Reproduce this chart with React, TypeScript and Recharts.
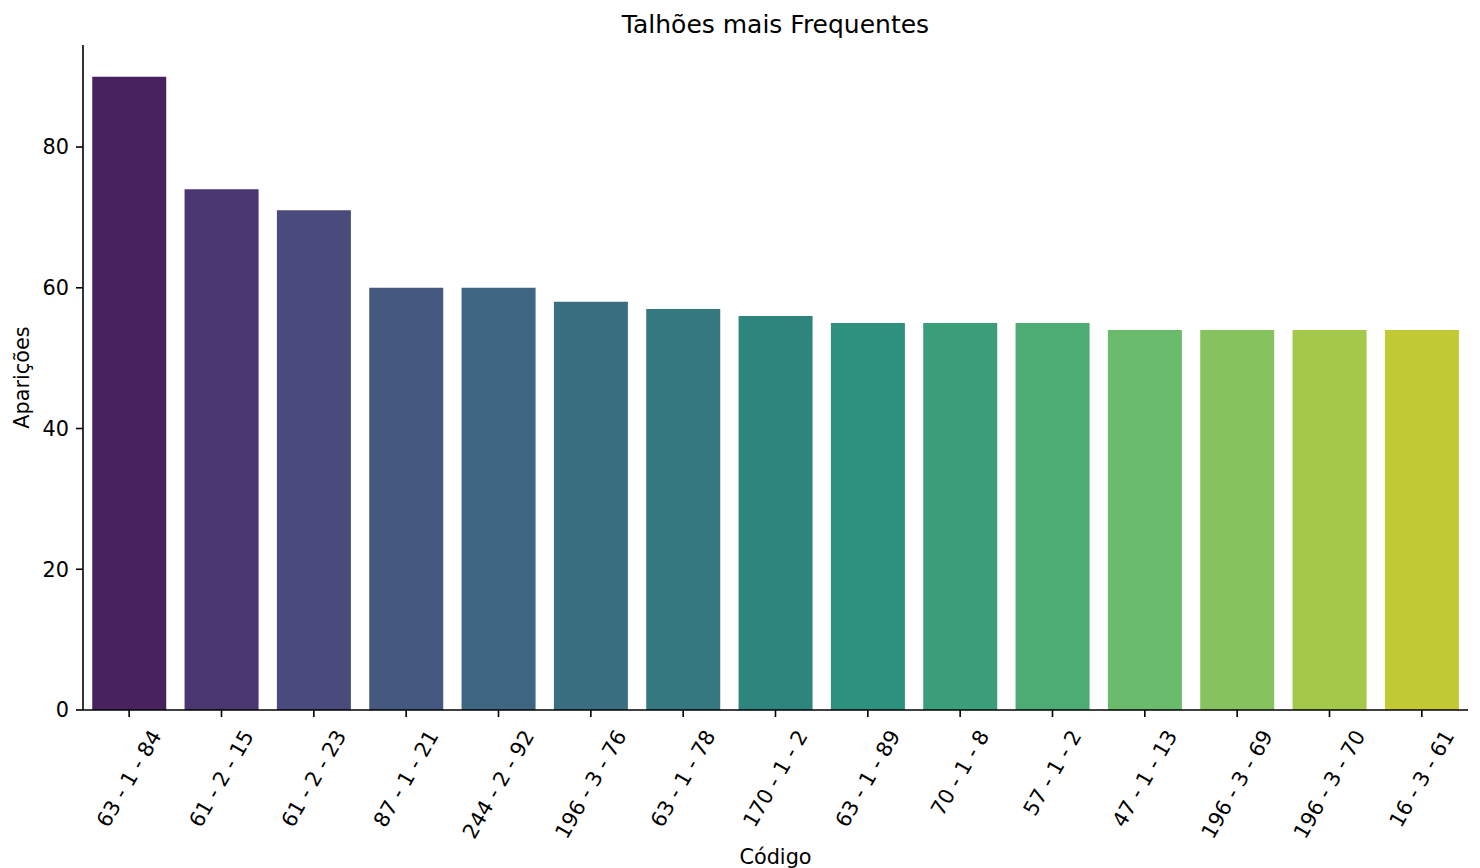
import { Bar, BarChart, Cell, XAxis, YAxis } from "recharts";

const codes = [
  "63 - 1 - 84",
  "61 - 2 - 15",
  "61 - 2 - 23",
  "87 - 1 - 21",
  "244 - 2 - 92",
  "196 - 3 - 76",
  "63 - 1 - 78",
  "170 - 1 - 2",
  "63 - 1 - 89",
  "70 - 1 - 8",
  "57 - 1 - 2",
  "47 - 1 - 13",
  "196 - 3 - 69",
  "196 - 3 - 70",
  "16 - 3 - 61"
];

const counts = [90, 74, 71, 60, 60, 58, 57, 56, 55, 55, 55, 54, 54, 54, 54];

const barColors = [
  "#48215f", "#4a3670", "#4a4a7c", "#445880", "#3e6582",
  "#396f80", "#35787f", "#2e857d", "#2e917d", "#3a9e79",
  "#4dab74", "#6abb6b", "#86c25d", "#a3c84a", "#c1ca35"
];

const yTicks = [0, 20, 40, 60, 80];

const FONT = "DejaVu Sans";
const FS = 20.8;

const data = codes.map((code, i) => ({ code, count: counts[i] }));

let ctx: CanvasRenderingContext2D | null = null;
const measure = (s: string) => {
  if (!ctx) ctx = document.createElement("canvas").getContext("2d");
  if (!ctx) return s.length * 11;
  ctx.font = `${FS}px "${FONT}"`;
  return ctx.measureText(s).width;
};

// matplotlib-style rotated label: bbox centred under the tick, top at a fixed pad
const RotatedTick = (props: any) => {
  const { x, y, payload } = props;
  const text = String(payload.value);
  const L = measure(text);
  const h = FS * 1.164;
  const H = L * Math.sin(Math.PI / 3) + h * Math.cos(Math.PI / 3);
  const cy = y + 7 + H / 2;
  return (
    <text
      x={x}
      y={cy}
      transform={`rotate(-60, ${x}, ${cy})`}
      textAnchor="middle"
      dominantBaseline="central"
      fontFamily={FONT}
      fontSize={FS}
      fill="#000"
    >
      {text}
    </text>
  );
};

const App = () => {
  return (
    <div style={{ position: "absolute", left: 0, top: 0, width: 1480, height: 868, background: "#fff" }}>
      <div
        style={{
          position: "absolute",
          left: 0,
          width: 1551,
          top: 12,
          textAlign: "center",
          fontFamily: FONT,
          fontSize: 25,
          lineHeight: "25px",
          color: "#000"
        }}
      >
        Talhões mais Frequentes
      </div>
      <BarChart
        width={1480}
        height={868}
        data={data}
        margin={{ top: 45, right: 12, bottom: 0, left: 0 }}
        barCategoryGap="10%"
      >
        <XAxis
          dataKey="code"
          height={158}
          stroke="#000"
          strokeWidth={1.6}
          tickSize={7}
          tick={<RotatedTick />}
          interval={0}
          label={{
            value: "Código",
            position: "insideBottom",
            offset: 4,
            style: { fontFamily: FONT, fontSize: FS, fill: "#000" }
          }}
        />
        <YAxis
          width={83}
          domain={[0, 94.5]}
          ticks={yTicks}
          stroke="#000"
          strokeWidth={1.6}
          tickSize={7}
          tickMargin={7}
          tick={{ fill: "#000", fontSize: FS, fontFamily: FONT }}
          label={{
            value: "Aparições",
            angle: -90,
            position: "insideLeft",
            offset: 22,
            style: { textAnchor: "middle", fontFamily: FONT, fontSize: FS, fill: "#000" }
          }}
        />
        <Bar dataKey="count" isAnimationActive={false}>
          {data.map((d, i) => (
            <Cell key={d.code} fill={barColors[i]} />
          ))}
        </Bar>
      </BarChart>
    </div>
  );
};

export default App;
